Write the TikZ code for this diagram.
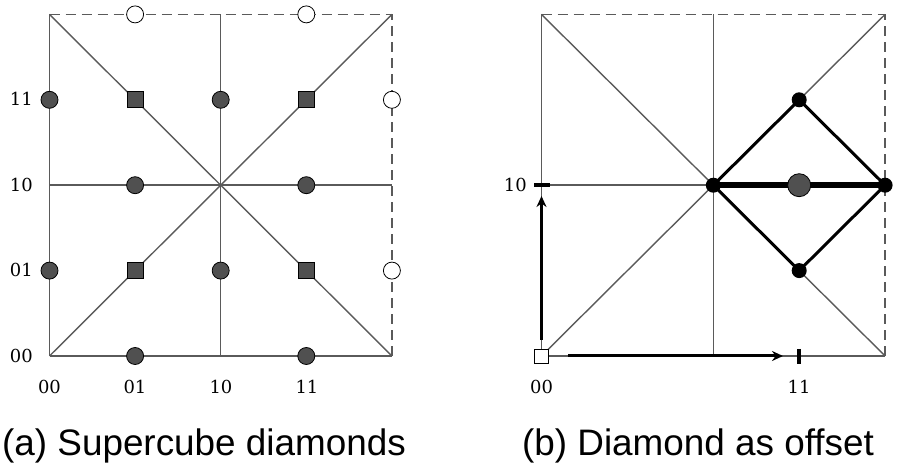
\documentclass[tikz,border=0pt]{standalone}
\usepackage{fontspec}
\newfontfamily\capfont{Liberation Sans}
\newfontfamily\digfont{DejaVu Serif}
\usetikzlibrary{arrows.meta}
\definecolor{gridgray}{HTML}{5A5A5A}
\definecolor{fillgray}{HTML}{505050}
\tikzset{
 gridline/.style={draw=gridgray, line width=1.4bp},
 dashedge/.style={gridline, dash pattern=on 10bp off 6bp},
 dot/.style={circle, draw=black, fill=fillgray, line width=0.8bp, minimum size=17bp, inner sep=0pt},
 opendot/.style={dot, fill=white},
 sqmark/.style={rectangle, draw=black, fill=fillgray, line width=0.8bp, minimum size=16bp, inner sep=0pt},
 opensq/.style={sqmark, fill=white, minimum size=14bp},
 blackdot/.style={circle, fill=black, minimum size=15bp, inner sep=0pt},
 bigdot/.style={dot, minimum size=23bp},
 lbl/.style={font=\digfont\fontsize{18}{18}\selectfont, inner sep=0pt},
 captext/.style={font=\capfont\fontsize{37}{37}\selectfont, inner sep=0pt, anchor=base},
 diaedge/.style={draw=black, line width=3bp},
 midedge/.style={draw=black, line width=5.5bp},
 offarrow/.style={draw=black, line width=3bp, -{Stealth[length=11bp,width=10bp]}},
 tickmark/.style={draw=black, line width=3.5bp},
}
\begin{document}
\begin{tikzpicture}[x=1bp,y=-1bp]
\useasboundingbox (0,0) rectangle (903,466);
\foreach \i in {0,...,4}{\foreach \j in {0,...,4}{
  \coordinate (L\i\j) at ({49.5+85.6*\i},{356-85.4*\j});
  \coordinate (R\i\j) at ({541.5+85.9*\i},{356-85.4*\j});
}}
% ---------- left panel ----------
\draw[gridline] (L00) -- (L40);
\draw[gridline] (L00) -- (L04);
\draw[dashedge] (L04) -- (L44);
\draw[dashedge] (L40) -- (L44);
\draw[gridline] (L20) -- (L24);
\draw[gridline] (L02) -- (L42);
\draw[gridline] (L00) -- (L44);
\draw[gridline] (L04) -- (L40);
\node[dot] (a01) at (L01) {};
\node[dot] (a03) at (L03) {};
\node[dot] (a10) at (L10) {};
\node[dot] (a30) at (L30) {};
\node[dot] (a12) at (L12) {};
\node[dot] (a32) at (L32) {};
\node[dot] (a21) at (L21) {};
\node[dot] (a23) at (L23) {};
\node[sqmark] (a11) at (L11) {};
\node[sqmark] (a13) at (L13) {};
\node[sqmark] (a31) at (L31) {};
\node[sqmark] (a33) at (L33) {};
\node[opendot] (a14) at (L14) {};
\node[opendot] (a34) at (L34) {};
\node[opendot] (a41) at (L41) {};
\node[opendot] (a43) at (L43) {};
\node[lbl, anchor=east] (ly3) at (33,99) {11};
\node[lbl, anchor=east] (ly2) at (33,185) {10};
\node[lbl, anchor=east] (ly1) at (33,270) {01};
\node[lbl, anchor=east] (ly0) at (33,356) {00};
\node[lbl] (lx0) at (49.5,387) {00};
\node[lbl] (lx1) at (135,387) {01};
\node[lbl] (lx2) at (221,387) {10};
\node[lbl] (lx3) at (307,387) {11};
\node[captext] (capa) at (204,455) {(a) Supercube diamonds};
% ---------- right panel ----------
\draw[gridline] (R00) -- (R40);
\draw[gridline] (R00) -- (R04);
\draw[dashedge] (R04) -- (R44);
\draw[dashedge] (R40) -- (R44);
\draw[gridline] (R20) -- (R24);
\draw[gridline] (R02) -- (R42);
\draw[gridline] (R00) -- (R44);
\draw[gridline] (R04) -- (R40);
\draw[diaedge] (R22) -- (R33) -- (R42) -- (R31) -- cycle;
\draw[midedge] (R22) -- (R42);
\node[blackdot] (b22) at (R22) {};
\node[blackdot] (b42) at (R42) {};
\node[blackdot] (b33) at (R33) {};
\node[blackdot] (b31) at (R31) {};
\node[bigdot] (b32) at (R32) {};
\node[opensq] (org) at (R00) {};
\coordinate (ystart) at (541.5,340);
\coordinate (yend) at (541.5,196);
\coordinate (xstart) at (568,356);
\coordinate (xend) at (783,356);
\draw[offarrow] (ystart) -- (yend);
\draw[offarrow] (xstart) -- (xend);
\coordinate (yt1) at (534,185);
\coordinate (yt2) at (550,185);
\coordinate (xt1) at (799,349);
\coordinate (xt2) at (799,364);
\draw[tickmark] (yt1) -- (yt2);
\draw[tickmark] (xt1) -- (xt2);
\node[lbl, anchor=east] (ry2) at (527,185) {10};
\node[lbl] (rx0) at (541.5,387) {00};
\node[lbl] (rx3) at (799,387) {11};
\node[captext] (capb) at (698,455) {(b) Diamond as offset};
\end{tikzpicture}
\end{document}
